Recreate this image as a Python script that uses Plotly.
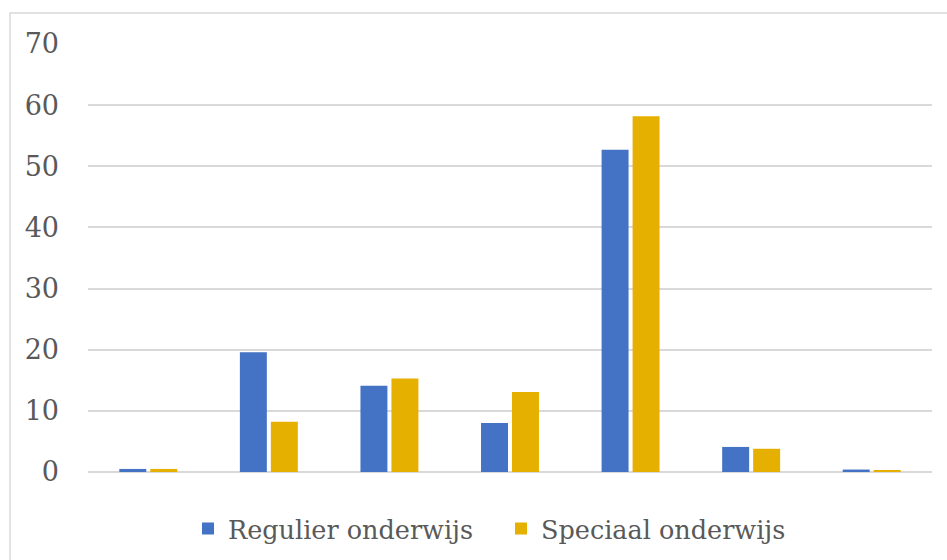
import plotly.graph_objects as go

# Seven groups without category labels on the axis
categories = ["1", "2", "3", "4", "5", "6", "7"]
regulier = [0.5, 19.6, 14.1, 8.0, 52.7, 4.1, 0.4]
speciaal = [0.5, 8.2, 15.3, 13.1, 58.2, 3.8, 0.3]
y_ticks = [0, 10, 20, 30, 40, 50, 60, 70]

BLUE = "#4472C4"
GOLD = "#E6B000"
GRID = "#D9D9D9"
TEXT = "#595959"
FONT = "DejaVu Serif"

fig = go.Figure()
fig.add_trace(go.Bar(x=categories, y=regulier, name="Regulier onderwijs",
                     marker=dict(color=BLUE, line=dict(width=0))))
fig.add_trace(go.Bar(x=categories, y=speciaal, name="Speciaal onderwijs",
                     marker=dict(color=GOLD, line=dict(width=0))))

W, H = 947, 560
L, R, T, B = 88, 15, 44, 88

# Outer chart frame (open on the right and bottom edges)
fig.add_shape(type="rect", xref="paper", yref="paper",
              x0=(10 - L) / (W - L - R), x1=1.5,
              y0=-1.0, y1=(H - 13 - B) / (H - T - B),
              line=dict(color=GRID, width=1.5), fillcolor="rgba(0,0,0,0)",
              layer="below")

fig.update_layout(
    width=W, height=H,
    margin=dict(l=L, r=R, t=T, b=B, autoexpand=False),
    paper_bgcolor="white", plot_bgcolor="white",
    barmode="group", bargap=0.486, bargroupgap=0.13,
    font=dict(family=FONT, color=TEXT),
    showlegend=True,
    legend=dict(orientation="h", x=501 / W, xref="container", xanchor="center",
                y=(H - 529) / H, yref="container", yanchor="middle",
                font=dict(size=25.5, family=FONT, color=TEXT),
                itemwidth=30, entrywidth=268, traceorder="normal"),
    xaxis=dict(showticklabels=False, showgrid=False, zeroline=False,
               showline=False, ticks=""),
    yaxis=dict(range=[0, 70], tickvals=y_ticks, showgrid=True, gridcolor=GRID,
               gridwidth=1.5, zeroline=True, zerolinecolor=GRID, zerolinewidth=1.5,
               showline=False, ticks="", ticklabelstandoff=28,
               tickfont=dict(size=27, family=FONT, color=TEXT)),
)

fig.write_html("out.html")
